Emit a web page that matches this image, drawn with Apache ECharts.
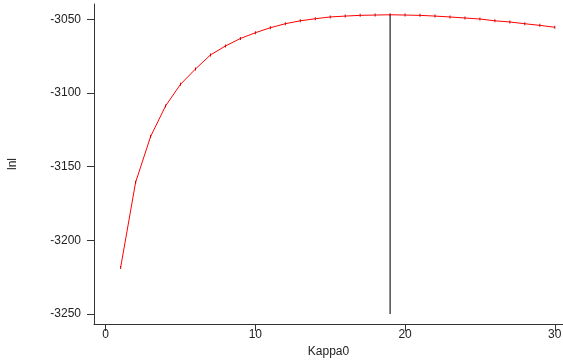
<!DOCTYPE html>
<html>
<head>
<meta charset="utf-8">
<script src="https://cdn.jsdelivr.net/npm/echarts@6/dist/echarts.min.js"></script>
<style>
  html, body { margin: 0; padding: 0; background: #fff; }
  #main { width: 563px; height: 360px; }
</style>
</head>
<body>
<div id="main"></div>
<script>
// kappa0 grid and log-likelihood
var kappa = [1, 2, 3, 4, 5, 6, 7, 8, 9, 10, 11, 12, 13, 14, 15,
             16, 17, 18, 19, 20, 21, 22, 23, 24, 25, 26, 27, 28, 29, 30];
var lnl = [-3218.4, -3160.6, -3129.6, -3108.8, -3094.1, -3083.7, -3074.2, -3068.1, -3063.0, -3059.1,
           -3055.7, -3053.0, -3051.0, -3049.6, -3048.4, -3047.8, -3047.3, -3047.1, -3046.9, -3047.1,
           -3047.3, -3047.8, -3048.4, -3049.1, -3049.8, -3051.0, -3051.8, -3053.0, -3054.1, -3055.4];
var xTicks = [0, 10, 20, 30];
var yTicks = [-3250, -3200, -3150, -3100, -3050];
var bestKappa = 19;
var lineBottom = -3250;

var pts = kappa.map(function (k, i) { return [k, lnl[i]]; });
var best = lnl[kappa.indexOf(bestKappa)];

var font = 'Liberation Sans, Arial, sans-serif';
var myChart = echarts.init(document.getElementById('main'));
var option = {
  animation: false,
  grid: { left: 94, right: 0, top: 4, bottom: 36, containLabel: false, outerBoundsMode: 'none' },
  xAxis: {
    type: 'value',
    min: -0.78, max: 30.55,
    name: 'Kappa0', nameLocation: 'middle', nameGap: 19,
    nameTextStyle: { fontFamily: font, fontSize: 12, color: '#222' },
    axisLine: { show: true, onZero: false, lineStyle: { color: '#333', width: 1 } },
    axisTick: { show: true, length: 7, customValues: xTicks, lineStyle: { color: '#333' } },
    axisLabel: { customValues: xTicks, margin: 5, fontFamily: font, fontSize: 12, color: '#222',
                 formatter: function (v) { return String(v); } },
    splitLine: { show: false }
  },
  yAxis: {
    type: 'value',
    min: -3256.8, max: -3039.6,
    name: 'lnl', nameLocation: 'middle', nameGap: 75, nameRotate: 90,
    nameTextStyle: { fontFamily: font, fontSize: 12, color: '#222' },
    axisLine: { show: true, onZero: false, lineStyle: { color: '#333', width: 1 } },
    axisTick: { show: true, length: 7, customValues: yTicks, lineStyle: { color: '#333' } },
    axisLabel: { customValues: yTicks, margin: 13, fontFamily: font, fontSize: 12, color: '#222',
                 formatter: function (v) { return String(v); } },
    splitLine: { show: false }
  },
  series: [{
    type: 'line',
    data: pts,
    symbol: 'rect',
    symbolSize: [1, 3],
    itemStyle: { color: '#cc0000' },
    lineStyle: { color: '#ff0000', width: 1 }
  }, {
    type: 'line',
    data: [[bestKappa, lineBottom], [bestKappa, best]],
    symbol: 'none',
    lineStyle: { color: '#222', width: 1.2 }
  }]
};
myChart.setOption(option);
</script>
</body>
</html>
